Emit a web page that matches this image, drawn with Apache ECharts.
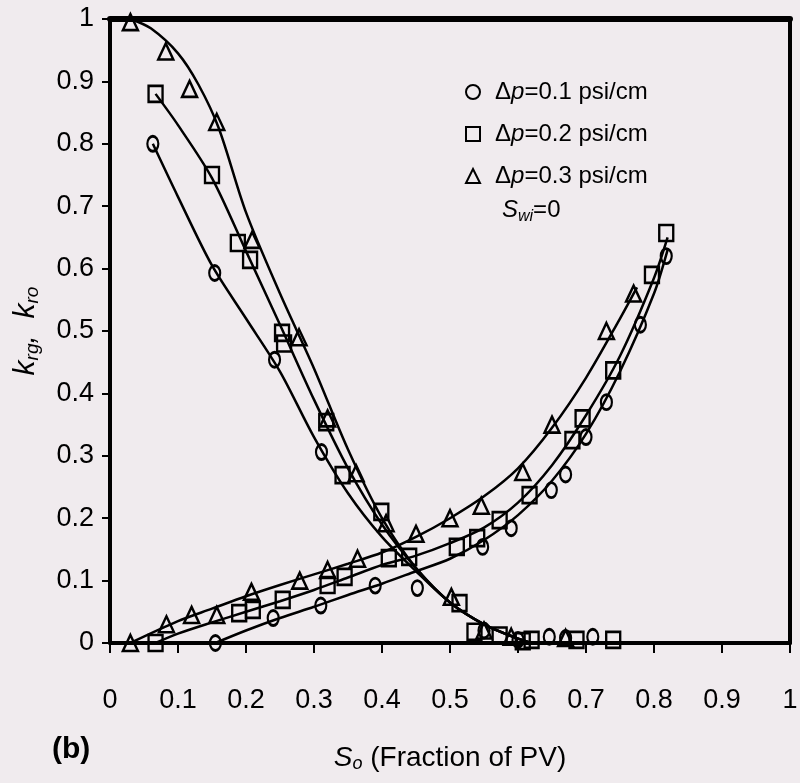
<!DOCTYPE html>
<html>
<head>
<meta charset="utf-8">
<script src="https://cdn.jsdelivr.net/npm/echarts@6/dist/echarts.min.js"></script>
<style>
  html, body { margin: 0; padding: 0; background: #f0ebee; }
  #chart { width: 800px; height: 783px; }
</style>
</head>
<body>
<div id="chart"></div>
<script>
  // tick labels
  var xTicks = [0, 0.1, 0.2, 0.3, 0.4, 0.5, 0.6, 0.7, 0.8, 0.9, 1];
  var yTicks = [0, 0.1, 0.2, 0.3, 0.4, 0.5, 0.6, 0.7, 0.8, 0.9, 1];

  var seriesNames = ['Δp=0.1 psi/cm', 'Δp=0.2 psi/cm', 'Δp=0.3 psi/cm'];

  // measured points, kro (oil)
  var kro01 = [[0.063, 0.80], [0.154, 0.593], [0.242, 0.454], [0.311, 0.306], [0.55, 0.02], [0.6, 0.005], [0.646, 0.01], [0.67, 0.008], [0.71, 0.01]];
  var kro02 = [[0.067, 0.88], [0.15, 0.75], [0.188, 0.641], [0.206, 0.614], [0.253, 0.497], [0.256, 0.48], [0.318, 0.354], [0.342, 0.269], [0.399, 0.21], [0.514, 0.064], [0.536, 0.018], [0.573, 0.012], [0.607, 0.003], [0.62, 0.005], [0.686, 0.005], [0.74, 0.005]];
  var kro03 = [[0.03, 0.995], [0.082, 0.948], [0.117, 0.888], [0.157, 0.835], [0.209, 0.646], [0.278, 0.49], [0.32, 0.36], [0.362, 0.272], [0.406, 0.192], [0.502, 0.074], [0.55, 0.02], [0.59, 0.01], [0.67, 0.008]];

  // measured points, krg (gas)
  var krg01 = [[0.155, 0], [0.24, 0.04], [0.31, 0.06], [0.39, 0.092], [0.452, 0.088], [0.548, 0.154], [0.59, 0.184], [0.649, 0.245], [0.67, 0.27], [0.7, 0.33], [0.73, 0.386], [0.78, 0.51], [0.818, 0.62]];
  var krg02 = [[0.067, 0], [0.19, 0.048], [0.21, 0.053], [0.254, 0.069], [0.32, 0.093], [0.345, 0.106], [0.41, 0.136], [0.44, 0.138], [0.51, 0.154], [0.54, 0.168], [0.573, 0.197], [0.617, 0.237], [0.68, 0.325], [0.695, 0.36], [0.74, 0.437], [0.797, 0.59], [0.818, 0.657]];
  var krg03 = [[0.03, 0], [0.083, 0.03], [0.12, 0.045], [0.157, 0.045], [0.208, 0.082], [0.279, 0.1], [0.32, 0.117], [0.364, 0.135], [0.45, 0.175], [0.5, 0.2], [0.546, 0.22], [0.607, 0.274], [0.65, 0.35], [0.73, 0.5], [0.77, 0.56]];

  // fitted curves
  var fitKro01 = [[0.063, 0.80], [0.1, 0.715], [0.15, 0.605], [0.2, 0.52], [0.25, 0.435], [0.3, 0.33], [0.35, 0.24], [0.4, 0.17], [0.45, 0.115], [0.5, 0.065], [0.55, 0.03], [0.6, 0.007], [0.62, 0]];
  var fitKro02 = [[0.067, 0.88], [0.1, 0.83], [0.15, 0.745], [0.2, 0.628], [0.25, 0.51], [0.3, 0.39], [0.35, 0.28], [0.4, 0.19], [0.45, 0.12], [0.5, 0.065], [0.55, 0.03], [0.6, 0.007], [0.62, 0]];
  var fitKro03 = [[0.03, 1.0], [0.06, 0.985], [0.1, 0.945], [0.13, 0.895], [0.16, 0.825], [0.2, 0.69], [0.25, 0.56], [0.3, 0.44], [0.35, 0.31], [0.4, 0.2], [0.45, 0.12], [0.5, 0.065], [0.55, 0.03], [0.6, 0.007], [0.62, 0]];

  var fitKrg01 = [[0.155, 0], [0.2, 0.02], [0.25, 0.04], [0.3, 0.058], [0.35, 0.077], [0.4, 0.095], [0.45, 0.115], [0.5, 0.135], [0.55, 0.165], [0.6, 0.205], [0.65, 0.26], [0.7, 0.335], [0.75, 0.435], [0.8, 0.56], [0.82, 0.63]];
  var fitKrg02 = [[0.067, 0], [0.1, 0.015], [0.15, 0.033], [0.2, 0.05], [0.25, 0.067], [0.3, 0.085], [0.35, 0.105], [0.4, 0.125], [0.45, 0.14], [0.5, 0.16], [0.55, 0.185], [0.6, 0.225], [0.65, 0.285], [0.7, 0.365], [0.75, 0.46], [0.8, 0.585], [0.82, 0.65]];
  var fitKrg03 = [[0.03, 0], [0.1, 0.035], [0.15, 0.055], [0.2, 0.075], [0.25, 0.093], [0.3, 0.11], [0.35, 0.127], [0.4, 0.145], [0.45, 0.17], [0.5, 0.2], [0.55, 0.235], [0.6, 0.28], [0.65, 0.345], [0.7, 0.425], [0.75, 0.52], [0.775, 0.57]];

  var FONT = '"Liberation Sans Narrow", "Liberation Sans", Arial, sans-serif';

  var myChart = echarts.init(document.getElementById('chart'));

  function markers(name, symbol, size, data) {
    return {
      name: name,
      type: 'scatter',
      symbol: symbol,
      symbolSize: size,
      data: data,
      z: 5,
      itemStyle: { color: 'transparent', borderColor: '#000', borderWidth: 2.5, opacity: 1 }
    };
  }

  function fit(data) {
    return {
      type: 'line',
      data: data,
      smooth: 0.3,
      showSymbol: false,
      silent: true,
      z: 3,
      lineStyle: { color: '#000', width: 2.5 }
    };
  }

  var hidden = { show: false };

  myChart.setOption({
    backgroundColor: '#f0ebee',
    animation: false,
    grid: { left: 110, right: 10, top: 19, bottom: 140, outerBoundsMode: 'none', containLabel: false },
    legend: {
      data: seriesNames,
      orient: 'vertical',
      left: 460,
      top: 75,
      itemGap: 18,
      itemWidth: 14,
      itemHeight: 14,
      formatter: function (name) {
        var rest = name.replace('Δp', '');
        return '{n|Δ}{i|p}{n|' + rest + '}';
      },
      textStyle: {
        padding: [0, 0, 0, 10],
        rich: {
          n: { fontFamily: FONT, fontSize: 24, color: '#000' },
          i: { fontFamily: FONT, fontSize: 24, fontStyle: 'italic', color: '#000' }
        }
      }
    },
    xAxis: [{
      type: 'value',
      min: 0,
      max: 1,
      interval: 0.1,
      name: '{i|S}{s|o}{n| (Fraction of PV)}',
      nameLocation: 'middle',
      nameGap: 100,
      nameTextStyle: {
        rich: {
          i: { fontFamily: FONT, fontSize: 28, fontStyle: 'italic', color: '#000' },
          s: { fontFamily: FONT, fontSize: 18, fontStyle: 'italic', color: '#000', verticalAlign: 'bottom', padding: [12, 0, 0, 0] },
          n: { fontFamily: FONT, fontSize: 28, color: '#000' }
        }
      },
      axisLine: { lineStyle: { color: '#000', width: 4 } },
      axisTick: { length: 10, lineStyle: { color: '#000', width: 2 } },
      axisLabel: {
        margin: 44,
        fontFamily: FONT,
        fontSize: 27,
        color: '#000',
        formatter: function (v) { return xTicks.indexOf(Math.round(v * 10) / 10) >= 0 ? String(Math.round(v * 10) / 10) : ''; }
      },
      splitLine: hidden
    }, {
      // top border of the frame
      type: 'value', position: 'top', min: 0, max: 1,
      axisLine: { onZero: false, lineStyle: { color: '#000', width: 6 } },
      axisTick: hidden, axisLabel: hidden, splitLine: hidden
    }],
    yAxis: [{
      type: 'value',
      min: 0,
      max: 1,
      interval: 0.1,
      name: '{i|k}{s|rg}{i|,  k}{s|ro}',
      nameLocation: 'middle',
      nameGap: 68,
      nameRotate: 90,
      nameTextStyle: {
        rich: {
          i: { fontFamily: FONT, fontSize: 30, fontStyle: 'italic', color: '#000' },
          s: { fontFamily: FONT, fontSize: 19, fontStyle: 'italic', color: '#000', padding: [14, 0, 0, 0] }
        }
      },
      axisLine: { lineStyle: { color: '#000', width: 4 } },
      axisTick: { length: 8, lineStyle: { color: '#000', width: 2 } },
      axisLabel: {
        margin: 16,
        fontFamily: FONT,
        fontSize: 27,
        color: '#000',
        formatter: function (v) { return yTicks.indexOf(Math.round(v * 10) / 10) >= 0 ? String(Math.round(v * 10) / 10) : ''; }
      },
      splitLine: hidden
    }, {
      // right border of the frame
      type: 'value', position: 'right', min: 0, max: 1,
      axisLine: { show: true, onZero: false, lineStyle: { color: '#000', width: 4 } },
      axisTick: hidden, axisLabel: hidden, splitLine: hidden
    }],
    graphic: [{
      type: 'text',
      left: 52,
      top: 735,
      style: { text: '(b)', fontFamily: FONT, fontSize: 30, fontWeight: 'bold', fill: '#000' }
    }, {
      type: 'text',
      left: 502,
      top: 198,
      style: {
        text: '{i|S}{s|wi}{n|=0}',
        rich: {
          i: { fontFamily: FONT, fontSize: 24, fontStyle: 'italic', fill: '#000' },
          s: { fontFamily: FONT, fontSize: 16, fontStyle: 'italic', fill: '#000', padding: [14, 0, 0, 0] },
          n: { fontFamily: FONT, fontSize: 24, fill: '#000' }
        }
      }
    }],
    series: [
      fit(fitKro01), fit(fitKro02), fit(fitKro03),
      fit(fitKrg01), fit(fitKrg02), fit(fitKrg03),
      markers(seriesNames[0], 'circle', [11, 15], kro01),
      markers(seriesNames[1], 'rect', [14, 16], kro02),
      markers(seriesNames[2], 'triangle', [15, 16], kro03),
      markers(seriesNames[0], 'circle', [11, 15], krg01),
      markers(seriesNames[1], 'rect', [14, 16], krg02),
      markers(seriesNames[2], 'triangle', [15, 16], krg03)
    ]
  });
</script>
</body>
</html>
